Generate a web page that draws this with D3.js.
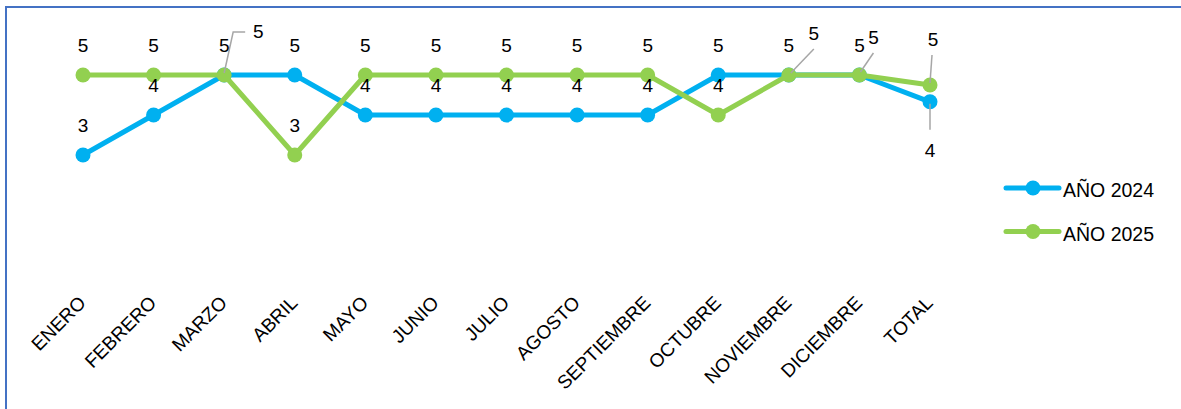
<!DOCTYPE html>
<html>
<head>
<meta charset="utf-8">
<script src="https://cdn.jsdelivr.net/npm/d3@7"></script>
<style>
  html, body { margin: 0; padding: 0; background: #ffffff; overflow: hidden; }
  svg { display: block; overflow: hidden; font-family: "Liberation Sans", Arial, Helvetica, sans-serif; }
</style>
</head>
<body>
<svg id="chart" width="1181" height="409"></svg>
<script>
// Monthly scores per year, plus the yearly average in the TOTAL column
const categories = ["ENERO", "FEBRERO", "MARZO", "ABRIL", "MAYO", "JUNIO", "JULIO",
  "AGOSTO", "SEPTIEMBRE", "OCTUBRE", "NOVIEMBRE", "DICIEMBRE", "TOTAL"];
const values2024 = [3, 4, 5, 5, 4, 4, 4, 4, 4, 5, 5, 5, 4.33];
const values2025 = [5, 5, 5, 3, 5, 5, 5, 5, 5, 4, 5, 5, 4.75];
const seriesNames = ["AÑO 2024", "AÑO 2025"];
const seriesColors = ["#00B0F0", "#92D050"];

const series = [
  { name: seriesNames[0], values: values2024, color: seriesColors[0] },
  { name: seriesNames[1], values: values2025, color: seriesColors[1] }
];

// Labels that were moved off their default spot (label offset from the point,
// leader line as offsets from the point)
const movedLabels = {
  "0-2":  { dx: 34, dy: -37, leader: [[0, -2], [9, -43], [21, -43]] },
  "0-10": { dx: 25, dy: -35, leader: [[2, -2], [25, -26]] },
  "0-11": { dx: 14, dy: -31, leader: [[1, -3], [14, -22]] },
  "0-12": { dx: 0,  dy: 55,  leader: [[0, 2], [0, 28]] },
  "1-12": { dx: 3,  dy: -39, leader: [[0, -2], [2, -30]] }
};

const svg = d3.select("#chart");

// Outer frame (runs past the right and bottom edges)
svg.append("rect")
  .attr("x", 6).attr("y", 7)
  .attr("width", 1300).attr("height", 500)
  .attr("fill", "none")
  .attr("stroke", "#4472C4")
  .attr("stroke-width", 2);

const x = d3.scalePoint()
  .domain(categories)
  .range([83, 930]);

const y = d3.scaleLinear()
  .domain([0, 6])
  .range([275, 35]);

const line = d3.line()
  .x((d, i) => x(categories[i]))
  .y(d => y(d));

// Category axis labels, rotated
svg.append("g")
  .selectAll("text")
  .data(categories)
  .join("text")
  .attr("transform", d => `translate(${x(d) + 4},304) rotate(-45)`)
  .attr("text-anchor", "end")
  .attr("font-size", 19)
  .attr("fill", "#000")
  .text(d => d);

// Lines and markers
const gSeries = svg.append("g");
series.forEach(s => {
  const g = gSeries.append("g");
  g.append("path")
    .datum(s.values)
    .attr("d", line)
    .attr("fill", "none")
    .attr("stroke", s.color)
    .attr("stroke-width", 5)
    .attr("stroke-linejoin", "round");
  g.selectAll("circle")
    .data(s.values)
    .join("circle")
    .attr("cx", (d, i) => x(categories[i]))
    .attr("cy", d => y(d))
    .attr("r", 7.5)
    .attr("fill", s.color);
});

// Leader lines and data labels
const fmt = d3.format(".0f");
const gLeaders = svg.append("g");
const gLabels = svg.append("g");
series.forEach((s, si) => {
  s.values.forEach((v, i) => {
    const px = x(categories[i]);
    const py = y(v);
    const m = movedLabels[`${si}-${i}`];
    let lx = px, ly = py - 23.5;
    if (m) {
      lx = px + m.dx;
      ly = py + m.dy;
      gLeaders.append("path")
        .attr("d", d3.line()(m.leader.map(p => [px + p[0], py + p[1]])))
        .attr("fill", "none")
        .attr("stroke", "#A6A6A6")
        .attr("stroke-width", 1.5);
    }
    gLabels.append("text")
      .attr("x", lx)
      .attr("y", ly)
      .attr("text-anchor", "middle")
      .attr("font-size", 19)
      .attr("fill", "#000")
      .text(fmt(v));
  });
});

// Legend
const legend = svg.append("g");
series.forEach((s, i) => {
  const ly = 188 + i * 43.5;
  const g = legend.append("g");
  g.append("line")
    .attr("x1", 1006).attr("x2", 1059)
    .attr("y1", ly).attr("y2", ly)
    .attr("stroke", s.color)
    .attr("stroke-width", 5)
    .attr("stroke-linecap", "round");
  g.append("circle")
    .attr("cx", 1033).attr("cy", ly)
    .attr("r", 7.5)
    .attr("fill", s.color);
  g.append("text")
    .attr("x", 1063)
    .attr("y", ly + 9)
    .attr("font-size", 19.5)
    .attr("fill", "#000")
    .text(s.name);
});
</script>
</body>
</html>
